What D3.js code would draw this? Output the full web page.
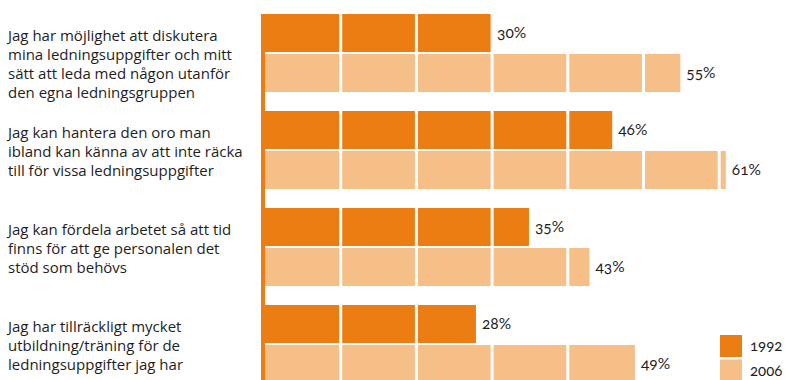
<!DOCTYPE html>
<html>
<head>
<meta charset="utf-8">
<script src="https://cdn.jsdelivr.net/npm/d3@7"></script>
<style>
  html, body { margin: 0; padding: 0; background: #fff; }
  svg { display: block; }
  text { font-family: "Open Sans", "Noto Sans", sans-serif; fill: #1e1e1e; }
  .num { font-family: Lato, "Open Sans", sans-serif; font-variant-numeric: oldstyle-nums; font-feature-settings: "onum"; }
</style>
</head>
<body>
<svg id="chart" width="788" height="380"></svg>
<script>
// Statements (line breaks as they are set in the label column)
const categories = [
  "Jag har möjlighet att diskutera\nmina ledningsuppgifter och mitt\nsätt att leda med någon utanför\nden egna ledningsgruppen",
  "Jag kan hantera den oro man\nibland kan känna av att inte räcka\ntill för vissa ledningsuppgifter",
  "Jag kan fördela arbetet så att tid\nfinns för att ge personalen det\nstöd som behövs",
  "Jag har tillräckligt mycket\nutbildning/träning för de\nledningsuppgifter jag har"
];
const years = ["1992", "2006"];
const values1992 = [30, 46, 35, 28];
const values2006 = [55, 61, 43, 49];
const gridTicks = [10, 20, 30, 40, 50, 60, 70, 80, 90];

const colors = { "1992": "#ec7d12", "2006": "#f6bf88" };

const svg = d3.select("#chart");

const x = d3.scaleLinear().domain([0, 100]).range([264, 1021]);
const y = d3.scaleBand().domain(d3.range(categories.length))
  .range([14, 383]).paddingInner(19 / 97).paddingOuter(0).align(0);
const ySub = d3.scaleBand().domain(years)
  .range([0, y.bandwidth()]).paddingInner(0.05);

const rows = categories.map((c, i) => ({
  label: c,
  i,
  bars: [
    { year: "1992", value: values1992[i] },
    { year: "2006", value: values2006[i] }
  ]
}));

const barLayer = svg.append("g");
const gridLayer = svg.append("g");
const labelLayer = svg.append("g");

const g = barLayer.selectAll("g.row").data(rows).join("g")
  .attr("class", "row")
  .attr("transform", d => `translate(0,${y(d.i)})`);

// bars
g.selectAll("rect.bar").data(d => d.bars).join("rect")
  .attr("class", "bar")
  .attr("x", x(0))
  .attr("y", d => ySub(d.year))
  .attr("width", d => x(d.value) - x(0))
  .attr("height", ySub.bandwidth())
  .attr("fill", d => colors[d.year]);

// white division lines every 10 %
gridLayer.selectAll("rect").data(gridTicks).join("rect")
  .attr("x", d => x(d) - 0.5)
  .attr("y", 0)
  .attr("width", 3)
  .attr("height", 380)
  .attr("fill", "#fff");

const lab = labelLayer.selectAll("g.row").data(rows).join("g")
  .attr("class", "row")
  .attr("transform", d => `translate(0,${y(d.i)})`);

// value labels
lab.selectAll("text.val").data(d => d.bars).join("text")
  .attr("class", "val num")
  .attr("x", d => x(d.value) + 6)
  .attr("y", d => ySub(d.year) + ySub.bandwidth() / 2 + 5)
  .attr("font-size", 15.5)
  .text(d => d.value + "%");

// category labels
lab.append("text")
  .attr("x", 8)
  .attr("font-size", 15)
  .selectAll("tspan").data(d => d.label.split("\n")).join("tspan")
  .attr("x", 8)
  .attr("y", (d, k) => 26.5 + k * 19.1)
  .text(d => d);

// value axis line
svg.append("rect")
  .attr("x", x(0) - 3)
  .attr("y", y(0))
  .attr("width", 4)
  .attr("height", 380 - y(0))
  .attr("fill", colors["1992"]);

// legend
const legend = svg.append("g").attr("transform", "translate(720,335)");
const lg = legend.selectAll("g").data(years).join("g")
  .attr("transform", (d, k) => `translate(0,${k * 24.5})`);
lg.append("rect")
  .attr("width", 22).attr("height", 22)
  .attr("fill", d => colors[d]);
lg.append("text")
  .attr("class", "num")
  .attr("x", 30).attr("y", 16)
  .attr("font-size", 15)
  .text(d => d);
</script>
</body>
</html>
